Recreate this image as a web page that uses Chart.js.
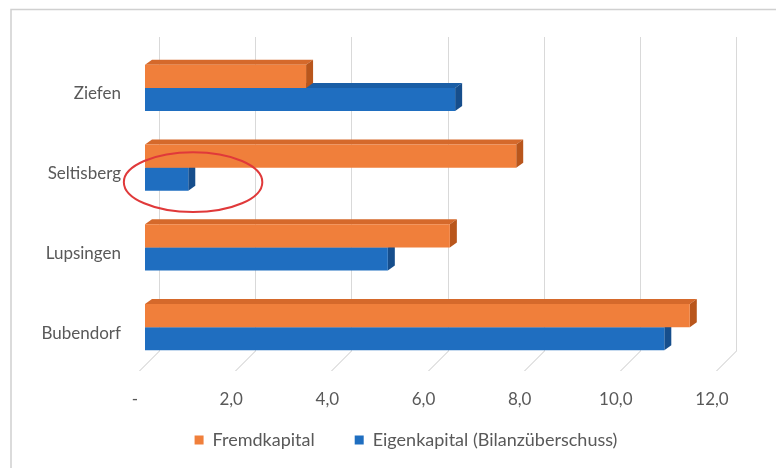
<!DOCTYPE html>
<html>
<head>
<meta charset="utf-8">
<script src="https://cdn.jsdelivr.net/npm/chart.js@4.4.1/dist/chart.umd.min.js"></script>
<style>
  html, body { margin: 0; padding: 0; background: #ffffff; }
  #wrap { width: 776px; height: 468px; }
</style>
</head>
<body>
<div id="wrap"><canvas id="c" width="776" height="468"></canvas></div>
<script>
// ---- data ----
const categories = ['Ziefen', 'Seltisberg', 'Lupsingen', 'Bubendorf'];
const seriesNames = ['Fremdkapital', 'Eigenkapital (Bilanzüberschuss)'];
const fremdkapital = [3.35, 7.72, 6.34, 11.33];
const eigenkapital = [6.45, 0.9, 5.05, 10.8];
const xTicks = [0, 2, 4, 6, 8, 10, 12];
const highlightCategory = 'Seltisberg';   // circled in red
const highlightCenterValue = 1.0;
const highlightHalfWidthValue = 1.44;

// ---- styles ----
const FRONT = ['#F07F3B', '#1F6EC0'];
const TOP = ['#D5692B', '#1A5EA6'];
const SIDE = ['#B9561C', '#164E8C'];
const DX = 7, DY = -5;
const GRID = '#d9d9d9';
const TEXT = '#595959';
const FONT = 'Lato';

const threeD = {
  id: 'threeD',
  afterLayout(chart) {
    const lg = chart.legend;
    if (!lg) return;
    lg.top = 391;
    lg.bottom = chart.height;
    lg.height = lg.bottom - lg.top;
    lg.left += 45;
    lg.right += 45;
  },
  beforeDraw(chart) {
    const ctx = chart.ctx;
    ctx.save();
    ctx.fillStyle = '#ffffff';
    ctx.fillRect(0, 0, chart.width, chart.height);
    ctx.strokeStyle = '#d0d0d0';
    ctx.lineWidth = 1.5;
    ctx.strokeRect(11, 9.5, chart.width + 20, chart.height + 20);
    ctx.restore();
  },
  beforeDatasetsDraw(chart) {
    const ctx = chart.ctx;
    const xs = chart.scales.x;
    const area = chart.chartArea;
    ctx.save();
    ctx.lineWidth = 1;
    xTicks.forEach(v => {
      const px = Math.round(xs.getPixelForValue(v)) + 0.5;
      const bx = px + 14;
      const topY = area.top - 11;
      const backY = area.bottom - 16;
      const frontY = area.bottom + 4;
      ctx.strokeStyle = GRID;
      ctx.beginPath();
      ctx.moveTo(bx, topY);
      ctx.lineTo(bx, backY);
      ctx.stroke();
      ctx.strokeStyle = '#c9c9c9';
      ctx.beginPath();
      ctx.moveTo(bx, backY);
      ctx.lineTo(px - 6, frontY);
      ctx.stroke();
    });
    [1, 0].forEach(di => {
      const meta = chart.getDatasetMeta(di);
      meta.data.forEach(bar => {
        const p = bar.getProps(['x', 'y', 'base', 'height'], true);
        const x0 = Math.min(p.base, p.x), x1 = Math.max(p.base, p.x);
        const yT = p.y - p.height / 2, yB = p.y + p.height / 2;
        ctx.fillStyle = TOP[di];
        ctx.beginPath();
        ctx.moveTo(x0, yT);
        ctx.lineTo(x0 + DX, yT + DY);
        ctx.lineTo(x1 + DX, yT + DY);
        ctx.lineTo(x1, yT);
        ctx.closePath();
        ctx.fill();
        ctx.fillStyle = SIDE[di];
        ctx.beginPath();
        ctx.moveTo(x1, yT);
        ctx.lineTo(x1 + DX, yT + DY);
        ctx.lineTo(x1 + DX, yB + DY);
        ctx.lineTo(x1, yB);
        ctx.closePath();
        ctx.fill();
      });
    });
    ctx.restore();
  },
  afterDatasetsDraw(chart) {
    const ctx = chart.ctx;
    const xs = chart.scales.x;
    const idx = categories.indexOf(highlightCategory);
    const bar = chart.getDatasetMeta(1).data[idx];
    if (!bar) return;
    const p = bar.getProps(['y', 'height'], true);
    const cx = xs.getPixelForValue(highlightCenterValue);
    const rx = xs.getPixelForValue(highlightCenterValue + highlightHalfWidthValue) - cx;
    const cy = p.y + 3;
    const ry = p.height * 1.3;
    ctx.save();
    ctx.strokeStyle = '#E0393A';
    ctx.lineWidth = 2;
    ctx.beginPath();
    ctx.ellipse(cx, cy, rx, ry, 0, 0, Math.PI * 2);
    ctx.stroke();
    ctx.restore();
  }
};

new Chart(document.getElementById('c'), {
  type: 'bar',
  data: {
    labels: categories,
    datasets: [
      { label: seriesNames[0], data: fremdkapital, backgroundColor: FRONT[0], borderWidth: 0 },
      { label: seriesNames[1], data: eigenkapital, backgroundColor: FRONT[1], borderWidth: 0 }
    ]
  },
  options: {
    indexAxis: 'y',
    responsive: false,
    animation: false,
    devicePixelRatio: 1,
    layout: { padding: { left: 0, right: 54, top: 48, bottom: 0 } },
    datasets: { bar: { categoryPercentage: 0.577, barPercentage: 1.0 } },
    scales: {
      x: {
        min: 0, max: 12,
        afterBuildTicks(scale) { scale.ticks = xTicks.map(v => ({ value: v })); },
        afterFit(scale) { scale.height = 45; },
        grid: { display: false, drawTicks: false },
        border: { display: false },
        ticks: {
          padding: 22,
          labelOffset: -10,
          color: TEXT,
          font: { family: FONT, size: 17 },
          callback: v => v === 0 ? '-' : v.toFixed(1).replace('.', ',')
        }
      },
      y: {
        afterFit(scale) { scale.width = 145; },
        grid: { display: false, drawTicks: false },
        border: { display: false },
        ticks: {
          padding: 24,
          labelOffset: 6,
          color: TEXT,
          font: { family: FONT, size: 17 }
        }
      }
    },
    plugins: {
      legend: {
        position: 'bottom',
        maxHeight: 56,
        labels: {
          boxWidth: 9, boxHeight: 9, padding: 40,
          color: TEXT,
          font: { family: FONT, size: 18 }
        }
      },
      tooltip: { enabled: false }
    }
  },
  plugins: [threeD]
});
</script>
</body>
</html>
